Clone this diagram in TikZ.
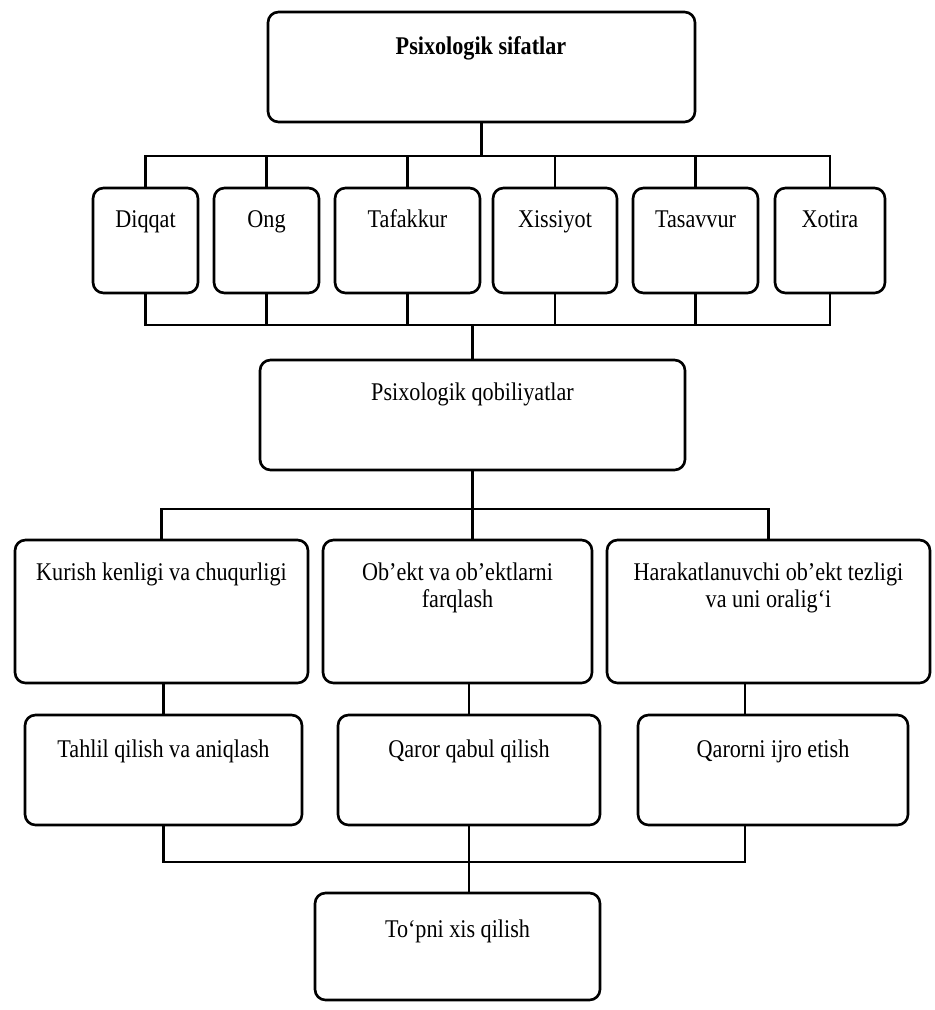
\documentclass[tikz,border=0pt]{standalone}
\usepackage{fontspec}
\setmainfont{Liberation Serif}[FakeStretch=0.87]
\usetikzlibrary{fit,calc}
\newcommand\tsize{\fontsize{14.5}{17}\selectfont}
\begin{document}
\begin{tikzpicture}[x=0.02cm,y=-0.02cm,
  box/.style={draw,line width=1.5pt,rounded corners=6pt,inner sep=0pt},
  txt/.style={font=\tsize,inner sep=0pt,anchor=base},
  wire/.style={line width=1.5pt}]
\useasboundingbox (0,0) rectangle (934,1010);
% coordinates for buses
\coordinate (bus1) at (0,156);
\coordinate (bus2) at (0,325);
\coordinate (bus3) at (0,509);
\coordinate (bus4) at (0,862);
\coordinate (s3) at (745,0);
% top
\node[box,fit={(268,12) (695,122)}] (top) {};
\node[txt,font=\tsize\bfseries] (top-t) at (481,55) {Psixologik sifatlar};
% row 1
\node[box,fit={(93,188) (198,293)}] (diqqat) {};
\node[box,fit={(214,188) (319,293)}] (ong) {};
\node[box,fit={(335,188) (480,293)}] (tafakkur) {};
\node[box,fit={(493,188) (617,293)}] (xissiyot) {};
\node[box,fit={(633,188) (758,293)}] (tasavvur) {};
\node[box,fit={(775,188) (885,293)}] (xotira) {};
\node[txt] (diqqat-t) at (145.5,228) {Diqqat};
\node[txt] (ong-t) at (266.5,228) {Ong};
\node[txt] (tafakkur-t) at (407.5,228) {Tafakkur};
\node[txt] (xissiyot-t) at (555,228) {Xissiyot};
\node[txt] (tasavvur-t) at (695.5,228) {Tasavvur};
\node[txt] (xotira-t) at (830,228) {Xotira};
% middle
\node[box,fit={(260,360) (685,470)}] (qob) {};
\node[txt] (qob-t) at (472.5,400) {Psixologik qobiliyatlar};
% row 2
\node[box,fit={(15,540) (308,683)}] (kurish) {};
\node[box,fit={(323,540) (592,683)}] (obekt) {};
\node[box,fit={(607,540) (930,683)}] (harakat) {};
\node[txt] (kurish-t) at (161.5,580) {Kurish kenligi va chuqurligi};
\node[txt] (obekt-t1) at (457.5,580) {Ob’ekt va ob’ektlarni};
\node[txt] (obekt-t2) at (457.5,607) {farqlash};
\node[txt] (harakat-t1) at (768.5,580) {Harakatlanuvchi ob’ekt tezligi};
\node[txt] (harakat-t2) at (768.5,607) {va uni oralig‘i};
% row 3
\node[box,fit={(25,715) (302,825)}] (tahlil) {};
\node[box,fit={(338,715) (600,825)}] (qaror) {};
\node[box,fit={(638,715) (908,825)}] (qarorni) {};
\node[txt] (tahlil-t) at (163.5,757) {Tahlil qilish va aniqlash};
\node[txt] (qaror-t) at (469,757) {Qaror qabul qilish};
\node[txt] (qarorni-t) at (773,757) {Qarorni ijro etish};
% bottom
\node[box,fit={(315,893) (600,1000)}] (topni) {};
\node[txt] (topni-t) at (457.5,937) {To‘pni xis qilish};
% connectors: top to row 1
\draw[wire] (top.south) -- (top.south |- bus1);
\draw[wire] (diqqat.north) -- (diqqat.north |- bus1) -- (xotira.north |- bus1) -- (xotira.north);
\foreach \n in {ong,tafakkur,xissiyot,tasavvur}
  \draw[wire] (\n.north) -- (\n.north |- bus1);
% row 1 to middle
\draw[wire] (diqqat.south) -- (diqqat.south |- bus2) -- (xotira.south |- bus2) -- (xotira.south);
\foreach \n in {ong,tafakkur,xissiyot,tasavvur}
  \draw[wire] (\n.south) -- (\n.south |- bus2);
\draw[wire] (qob.north) -- (qob.north |- bus2);
% middle to row 2
\draw[wire] (kurish.north) -- (kurish.north |- bus3) -- (harakat.north |- bus3) -- (harakat.north);
\draw[wire] (qob.south) -- (qob.south |- obekt.north);
% row 2 to row 3
\draw[wire] (tahlil.north) -- (tahlil.north |- kurish.south);
\draw[wire] (qaror.north) -- (qaror.north |- obekt.south);
\draw[wire] (harakat.south -| s3) -- (qarorni.north -| s3);
% row 3 to bottom
\draw[wire] (tahlil.south) -- (tahlil.south |- bus4) -- (s3 |- bus4) -- (qarorni.south -| s3);
\draw[wire] (qaror.south) -- (qaror.south |- topni.north);
\end{tikzpicture}
\end{document}
